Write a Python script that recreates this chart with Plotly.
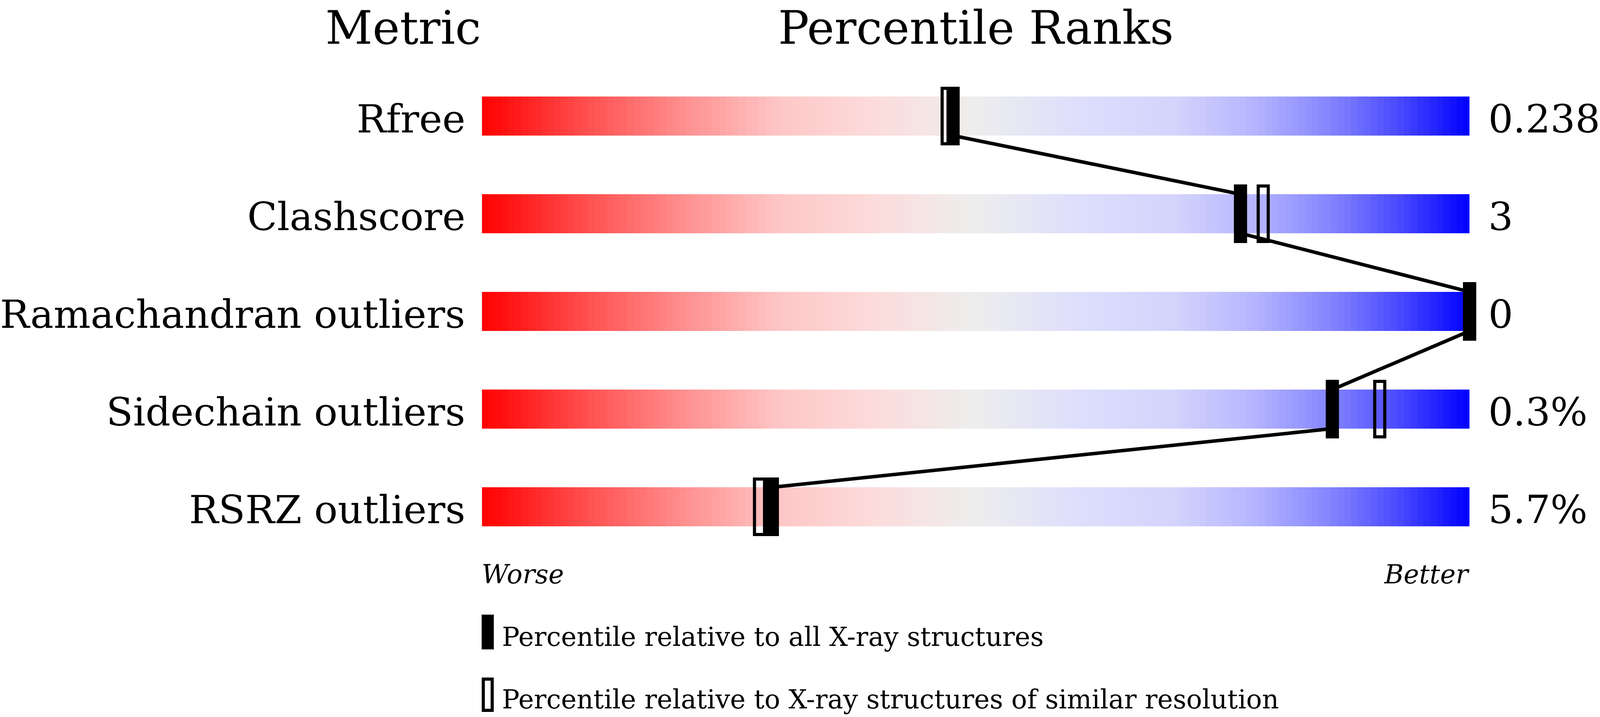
import numpy as np
import plotly.graph_objects as go

metrics = ["Rfree", "Clashscore", "Ramachandran outliers", "Sidechain outliers", "RSRZ outliers"]
values = ["0.238", "3", "0", "0.3%", "5.7%"]
pct_all = [47.7, 76.8, 100.0, 86.1, 29.4]      # filled marker
pct_similar = [47.1, 79.1, 100.0, 90.9, 28.1]  # open marker

legend_labels = ["Percentile relative to all X-ray structures",
                 "Percentile relative to X-ray structures of similar resolution"]

# gradient stops for the slider bars (worse -> better)
grad_stops = [
    [0.00, "rgb(255,0,0)"],
    [0.10, "rgb(255,75,75)"],
    [0.20, "rgb(255,140,140)"],
    [0.30, "rgb(254,198,198)"],
    [0.40, "rgb(252,220,220)"],
    [0.50, "rgb(238,238,238)"],
    [0.60, "rgb(222,222,252)"],
    [0.70, "rgb(212,212,252)"],
    [0.78, "rgb(182,182,255)"],
    [0.86, "rgb(132,132,255)"],
    [0.93, "rgb(72,72,255)"],
    [1.00, "rgb(0,0,255)"],
]

# layout worked out on a 4860x1835 grid, the page itself is 4096 wide
REF_W, H = 4860, 1835
FONT = "DejaVu Serif"
fs = 4096 / REF_W

# grid helpers: bar runs from 1464 to 4464, rows 250 apart starting at 297
def px2x(px):
    return (px - 1464) / 30.0

def py2y(py):
    return (py - 297) / 250.0

n = len(metrics)
rows = list(range(n))

# gradient bars as one heatmap with empty rows between
ncell = 150
xedges = np.linspace(0, 100, ncell + 1)
xcent = (xedges[:-1] + xedges[1:]) / 2
z = []
yedges = []
for i in rows:
    yedges += [i - 0.2, i + 0.2]
    z.append(list(xcent))
    if i < n - 1:
        z.append([None] * ncell)

fig = go.Figure()
fig.add_trace(go.Heatmap(x=xedges, y=yedges, z=z, colorscale=grad_stops, zmin=0, zmax=100,
                         showscale=False, hoverinfo="skip"))

# connecting line between filled markers (bottom of one bar to top of the next)
lx, ly = [], []
for i in rows:
    lx += [pct_all[i], pct_all[i]]
    ly += [i - 0.2, i + 0.2]
fig.add_trace(go.Scatter(x=lx[1:-1], y=ly[1:-1], mode="lines",
                         line=dict(color="black", width=9), hoverinfo="skip", showlegend=False))

# open markers (similar resolution)
bw = 8
ow = (40 - bw / fs) / 30.0
fig.add_trace(go.Bar(orientation="h", y=rows, x=[ow] * n, base=[p - ow / 2 for p in pct_similar],
                     width=(150 - bw) / 250.0,
                     marker=dict(color="rgba(0,0,0,0)", line=dict(color="black", width=bw)),
                     hoverinfo="skip", showlegend=False))
# filled markers (all structures)
fw = 40 / 30.0
fig.add_trace(go.Bar(orientation="h", y=rows, x=[fw] * n, base=[p - fw / 2 for p in pct_all],
                     width=0.6, marker=dict(color="black", line=dict(width=0)),
                     hoverinfo="skip", showlegend=False))

ann = []
def txt(text, x, y, size, xanchor, italic=False, yanchor="middle"):
    ann.append(dict(text=text, x=x, y=y, xref="x", yref="y", showarrow=False,
                    xanchor=xanchor, yanchor=yanchor,
                    font=dict(family=FONT, size=round(size * fs), color="black",
                              style="italic" if italic else "normal")))

# headers
txt("Metric", px2x(1463), py2y(0), 140, "right", yanchor="top")
txt("Percentile Ranks", px2x(2964), py2y(0), 140, "center", yanchor="top")
txt("Value", px2x(4862), py2y(0), 140, "right", yanchor="top")

for i in rows:
    txt(metrics[i], px2x(1415), i + 7 / 250.0, 119, "right")
    txt(values[i], px2x(4518), i + 7 / 250.0, 119, "left")

txt("Worse", px2x(1461), py2y(1470), 80, "left", italic=True)
txt("Better", px2x(4466), py2y(1470), 80, "right", italic=True)

# legend
txt(legend_labels[0], px2x(1522), py2y(1630), 80, "left")
txt(legend_labels[1], px2x(1522), py2y(1790), 80, "left")
shapes = [
    dict(type="rect", xref="x", yref="y", x0=px2x(1463), x1=px2x(1500), y0=py2y(1573), y1=py2y(1662),
         fillcolor="black", line=dict(width=0)),
    dict(type="rect", xref="x", yref="y", x0=px2x(1468), x1=px2x(1495), y0=py2y(1738), y1=py2y(1818),
         fillcolor="rgba(0,0,0,0)", line=dict(color="black", width=bw)),
]

fig.update_layout(
    height=H, autosize=True,
    margin=dict(l=0, r=0, t=0, b=0),
    paper_bgcolor="white", plot_bgcolor="white",
    barmode="overlay", showlegend=False,
    annotations=ann, shapes=shapes,
    xaxis=dict(range=[px2x(0), px2x(REF_W)], visible=False, fixedrange=True),
    yaxis=dict(range=[py2y(H), py2y(0)], visible=False, fixedrange=True),
)

fig.write_html("out.html", config={"displayModeBar": False, "responsive": True},
               default_width="100%", default_height="%dpx" % H,
               post_script="document.body.style.margin='0';"
                           "Plotly.Plots.resize(document.getElementById('{plot_id}'));")
